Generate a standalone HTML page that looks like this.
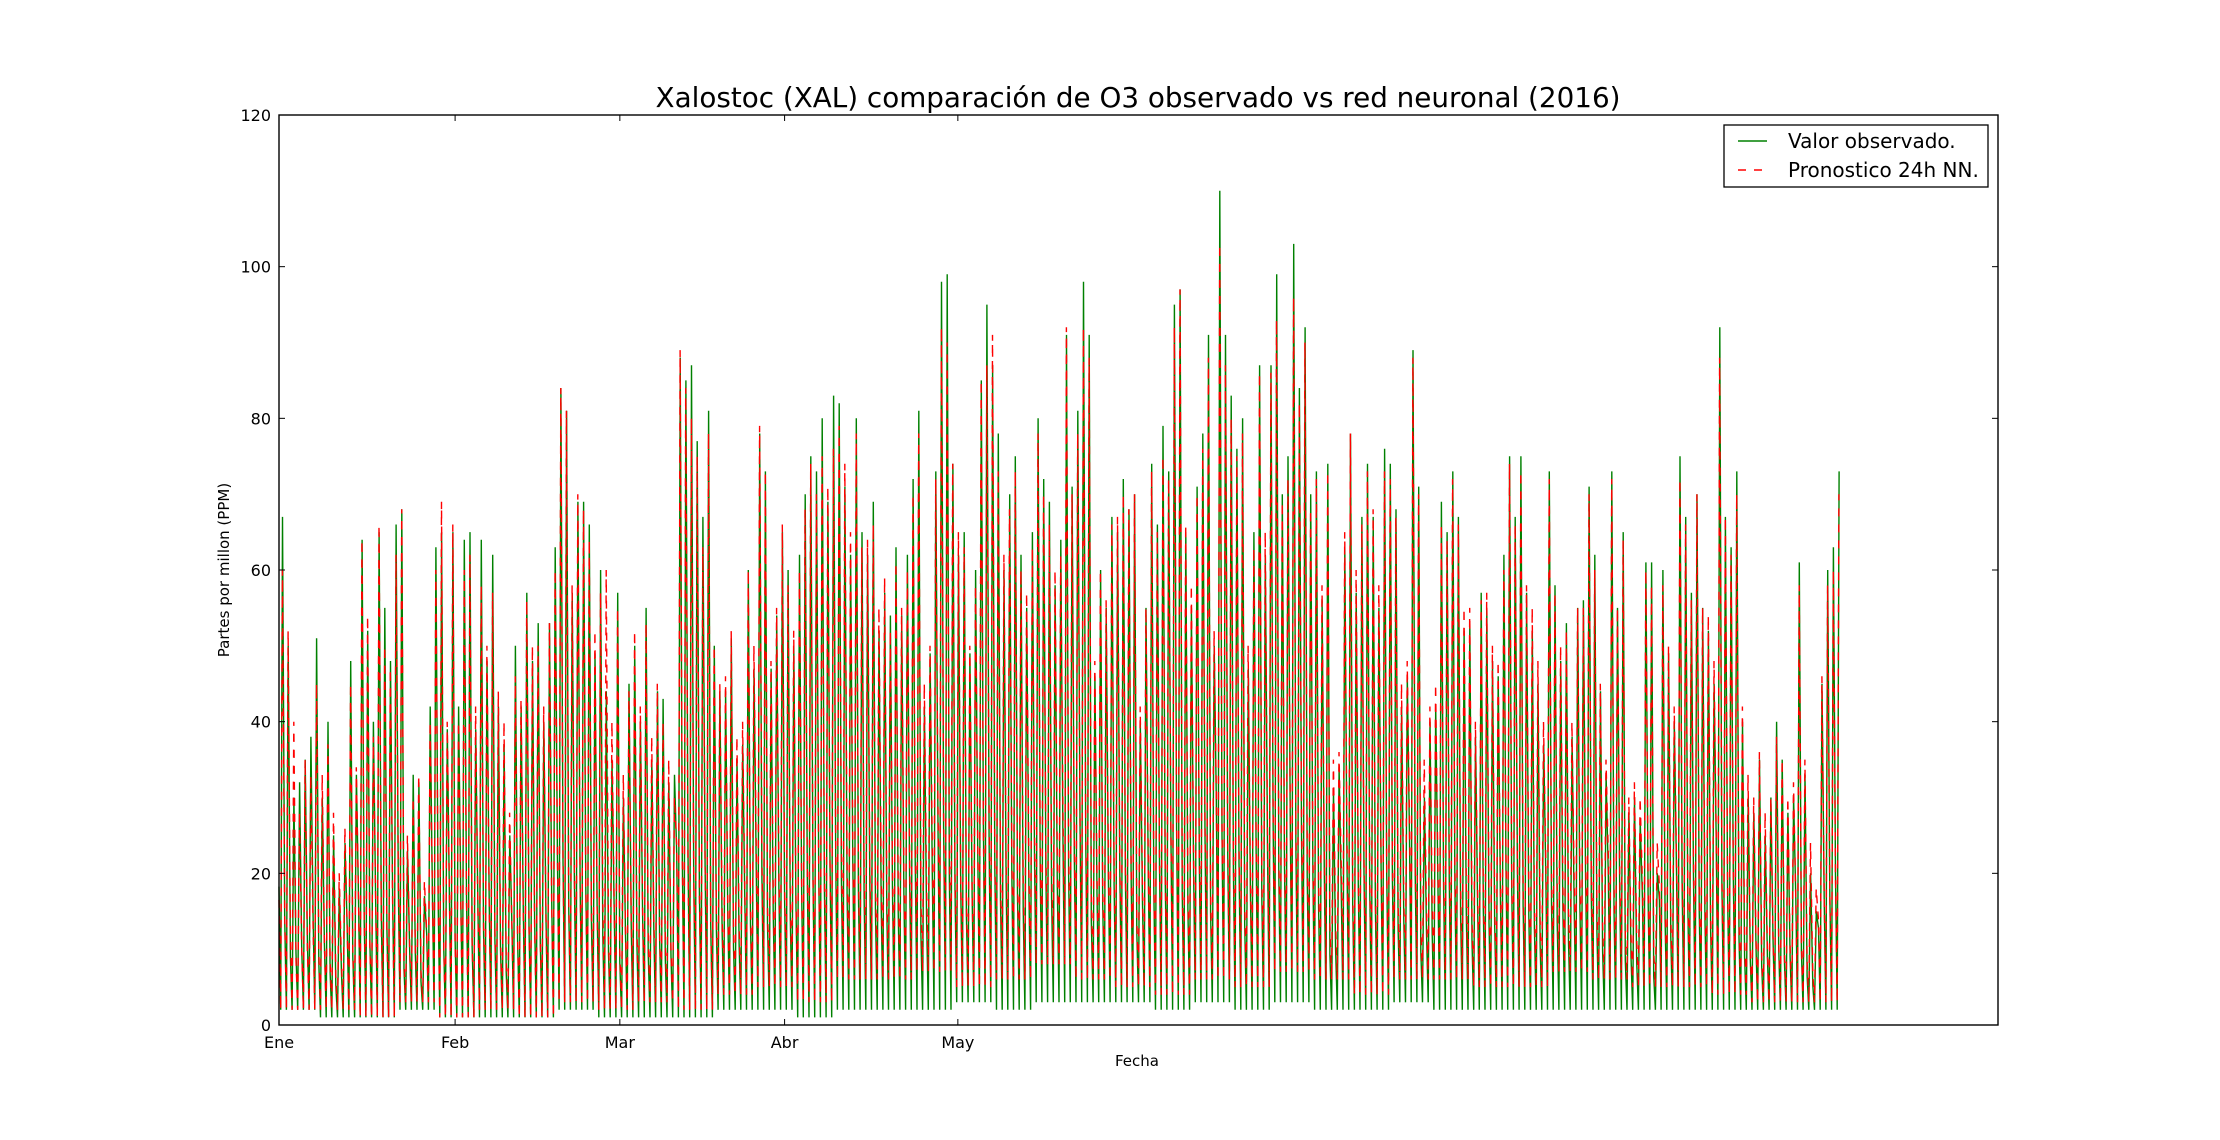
<!DOCTYPE html>
<html><head><meta charset="utf-8"><style>
body{margin:0;background:#fff}
svg{display:block;font-family:"DejaVu Sans","Liberation Sans",sans-serif}
</style></head><body>
<svg id="chart" width="2220" height="1140" viewBox="0 0 2220 1140" xmlns="http://www.w3.org/2000/svg">
<rect width="2220" height="1140" fill="#fff"/>
<text x="1138" y="107" font-size="27.8" text-anchor="middle">Xalostoc (XAL) comparación de O3 observado vs red neuronal (2016)</text>
<g id="plot"></g>
<g id="axes"></g>
<text x="1137" y="1066" font-size="15" text-anchor="middle">Fecha</text>
<text x="0" y="0" font-size="15" text-anchor="middle" transform="translate(229,570) rotate(-90)">Partes por millon (PPM)</text>
<g>
<rect x="1724" y="125" width="264" height="62" fill="#fff" stroke="#000" stroke-width="1.3"/>
<line x1="1738" y1="141" x2="1767" y2="141" stroke="#008000" stroke-width="1.4"/>
<text x="1788" y="148" font-size="20">Valor observado.</text>
<line x1="1738" y1="170" x2="1767" y2="170" stroke="#ff0000" stroke-width="1.4" stroke-dasharray="8,8"/>
<text x="1788" y="177" font-size="20">Pronostico 24h NN.</text>
</g>
</svg>
<script>
const obsMax=[67,50,30,32,35,38,51,30,40,25,18,24,48,33,64,52,40,65,55,48,66,68,23,33,32,17,42,63,65,39,65,
42,64,65,39,64,48,62,42,37,25,50,42,57,48,53,40,53,63,84,81,57,69,69,66,49,60,44,35,57,30,45,50,40,55,35,
44,43,32,33,88,85,87,77,67,81,50,44,44,51,35,37,60,47,78,73,47,54,65,60,50,62,70,75,73,80,69,
83,82,71,62,80,65,62,69,52,57,54,63,54,62,72,81,42,49,73,98,99,74,62,65,49,60,85,95,87,78,60,70,75,62,55,65,80,72,69,58,64,
91,71,81,98,91,46,60,55,67,65,72,68,70,40,55,74,66,79,73,95,97,65,55,71,78,91,50,110,91,83,76,
80,47,65,87,62,87,99,70,75,103,84,92,70,73,56,74,31,34,63,78,57,67,74,67,55,76,74,68,42,46,
89,71,30,40,42,69,65,73,67,52,53,38,57,55,48,46,62,75,67,75,57,52,45,37,73,58,48,53,38,55,56,
71,62,44,33,73,55,65,28,30,27,61,61,20,60,49,40,75,67,57,70,55,52,45,92,67,63,73,40,30,28,35,
25,30,40,35,28,30,61,33,20,15,45,60,63,73];
const fcMax=[60,52,40,28,35,33,45,33,37,28,20,26,45,34,64,54,38,66,50,47,62,68,25,30,33,19,40,60,69,40,66,
40,60,62,42,58,50,57,44,40,28,46,43,56,50,50,42,53,60,84,81,58,70,68,64,52,57,60,40,55,33,44,52,42,53,38,
45,40,35,30,89,84,80,75,63,78,50,45,46,52,38,40,60,50,79,73,48,55,66,58,52,60,68,74,70,75,71,
76,79,74,65,78,63,64,66,55,59,52,61,55,60,70,78,45,50,72,92,90,74,65,63,50,58,85,87,91,73,62,68,73,60,57,63,78,70,66,60,62,
92,70,78,92,88,48,60,56,66,67,70,68,70,42,55,73,65,75,72,92,97,66,58,70,76,88,52,103,87,80,75,
78,50,63,86,65,86,93,69,72,96,82,90,68,72,58,73,35,36,65,78,60,66,73,68,58,73,72,67,45,48,
88,70,35,42,45,66,64,72,66,55,55,40,56,57,50,48,60,74,66,73,58,55,48,40,72,57,50,52,40,55,55,
70,60,45,35,72,55,64,30,32,30,60,58,24,58,50,42,72,66,56,70,55,54,48,88,67,62,70,42,33,30,36,
28,30,38,35,30,32,58,35,24,18,46,58,60,70];
const obsMinWeekly=[2,1,1,2,1,1,1,2,1,1,1,2,2,1,2,2,2,3,2,3,3,3,2,3,2,3,2,2,3,2,2,2,2,2,2,2,2,2,2,2];
const fcMinWeekly=[2,2,1,3,1,2,1,3,2,3,2,4,5,3,6,6,7,5,6,8,6,5,4,6,5,7,6,4,6,6,5,5,7,6,5,5,4,3,3,3];
const yTicks=[0,20,40,60,80,100,120];
const monthStarts=[0,31,60,89,119.5];
const monthLabels=["Ene","Feb","Mar","Abr","May"];

const X0=279,X1=1998,Y0=1025,Y1=115,XMAXD=302.6;
const xs=d=>X0+(d/XMAXD)*(X1-X0);
const ys=v=>Y0-(v/120)*(Y0-Y1);
const NS="http://www.w3.org/2000/svg";
const plot=document.getElementById('plot'),axes=document.getElementById('axes');

function series(maxArr,minW,peak){
  let pts=[];
  for(let d=0;d<maxArr.length;d++){
    const mn=minW[Math.min(Math.floor(d/7),minW.length-1)];
    const mx=maxArr[d];
    const mid=mn+(mx-mn)*0.25;
    pts.push([xs(d),ys(mid)],[xs(d+0.3),ys(mn)],[xs(d+peak),ys(mx)]);
  }
  return pts.map((p,i)=>(i?'L':'M')+p[0].toFixed(1)+','+p[1].toFixed(1)).join('');
}
const obs=document.createElementNS(NS,'path');


obs.setAttribute('d',series(obsMax,obsMinWeekly,0.62));
obs.setAttribute('fill','none');obs.setAttribute('stroke','#008000');obs.setAttribute('stroke-width','1.4');
plot.appendChild(obs);
const fc=document.createElementNS(NS,'path');


fc.setAttribute('d',series(fcMax,fcMinWeekly,0.6));
fc.setAttribute('fill','none');fc.setAttribute('stroke','#ff0000');fc.setAttribute('stroke-width','1.4');fc.setAttribute('stroke-dasharray','8,8');
plot.appendChild(fc);

const frame=document.createElementNS(NS,'rect');


frame.setAttribute('x',X0);frame.setAttribute('y',Y1);frame.setAttribute('width',X1-X0);frame.setAttribute('height',Y0-Y1);
frame.setAttribute('fill','none');frame.setAttribute('stroke','#000');frame.setAttribute('stroke-width','1.4');
axes.appendChild(frame);

yTicks.forEach(v=>{
  const y=ys(v);
  [[X0,X0+6],[X1,X1-6]].forEach(([a,b])=>{
    const l=document.createElementNS(NS,'line');
    
    
    l.setAttribute('x1',a);l.setAttribute('x2',b);l.setAttribute('y1',y);l.setAttribute('y2',y);l.setAttribute('stroke','#000');
    axes.appendChild(l);
  });
  const t=document.createElementNS(NS,'text');
  
  
  t.setAttribute('x',X0-8);t.setAttribute('y',y+6);t.setAttribute('font-size','16');t.setAttribute('text-anchor','end');
  t.textContent=v;axes.appendChild(t);
});
monthStarts.forEach((d,i)=>{
  const x=xs(d);
  [[Y0,Y0-6],[Y1,Y1+6]].forEach(([a,b])=>{
    const l=document.createElementNS(NS,'line');
    
    
    l.setAttribute('x1',x);l.setAttribute('x2',x);l.setAttribute('y1',a);l.setAttribute('y2',b);l.setAttribute('stroke','#000');
    axes.appendChild(l);
  });
  const t=document.createElementNS(NS,'text');
  
  
  t.setAttribute('x',x);t.setAttribute('y',Y0+23);t.setAttribute('font-size','16');t.setAttribute('text-anchor','middle');
  t.textContent=monthLabels[i];axes.appendChild(t);
});
</script>
</body></html>
